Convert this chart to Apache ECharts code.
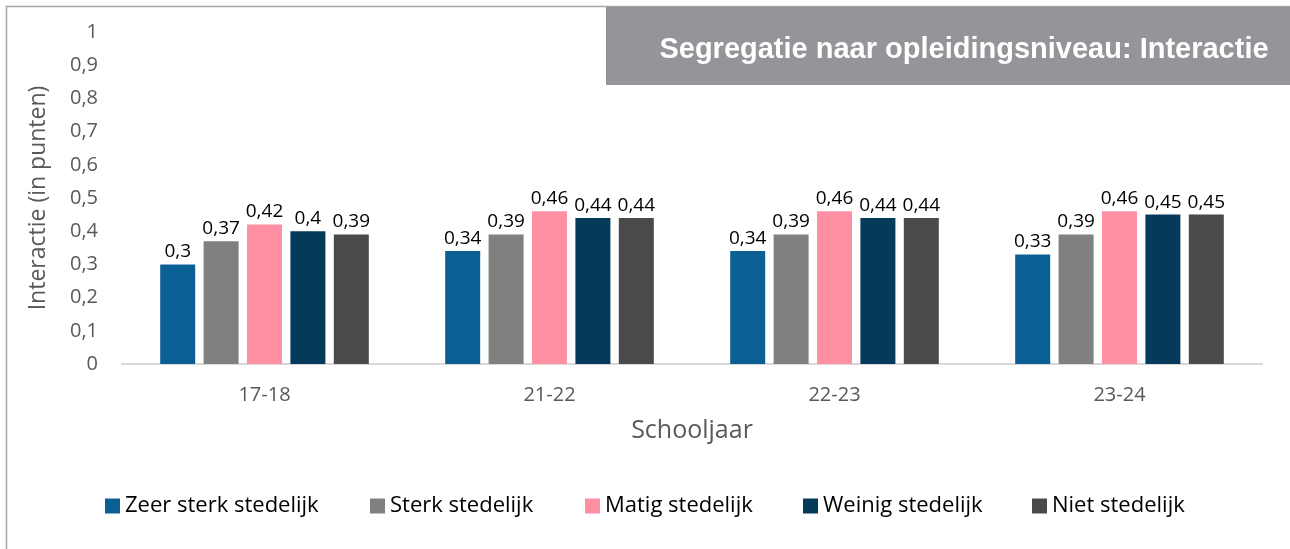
<!DOCTYPE html>
<html>
<head>
<meta charset="utf-8">
<script src="https://cdn.jsdelivr.net/npm/echarts@6/dist/echarts.min.js"></script>
<style>
  html, body { margin:0; padding:0; background:#fff; }
  #chart { width:1290px; height:549px; }
</style>
</head>
<body>
<div id="chart"></div>
<script>
	// data
	var categories = ['17-18', '21-22', '22-23', '23-24'];
	var seriesNames = ['Zeer sterk stedelijk', 'Sterk stedelijk', 'Matig stedelijk', 'Weinig stedelijk', 'Niet stedelijk'];
	var zeerSterk = [0.30, 0.34, 0.34, 0.33];
	var sterk     = [0.37, 0.39, 0.39, 0.39];
	var matig     = [0.42, 0.46, 0.46, 0.46];
	var weinig    = [0.40, 0.44, 0.44, 0.45];
	var niet      = [0.39, 0.44, 0.44, 0.45];
	var colors = ['#0a5f94', '#808080', '#ff8fa3', '#053a5a', '#4a4a4a'];
	var legendLeft = [105, 370, 585, 803, 1032];

	var txtFont = 'Open Sans';

	function komma(v) { return String(v).replace('.', ','); }

	var myChart = echarts.init(document.getElementById('chart'));

	var values = [zeerSterk, sterk, matig, weinig, niet];
	var series = [];
	var legends = [];
	for (var i = 0; i < seriesNames.length; i++) {
		series.push({
			name: seriesNames[i],
			type: 'bar',
			barWidth: 35,
			barGap: '24%',
			itemStyle: { color: colors[i] },
			label: {
				show: true,
				position: 'top',
				distance: 3,
				color: '#000',
				fontSize: 19,
				fontFamily: txtFont,
				formatter: function (p) { return komma(p.value); }
			},
			data: values[i]
		});
		legends.push({
			left: legendLeft[i],
			top: 495,
			padding: 0,
			itemWidth: 15,
			itemHeight: 15,
			icon: 'rect',
			textStyle: { color: '#000', fontSize: 22, fontFamily: txtFont },
			data: [seriesNames[i]]
		});
	}

	var option = {
		animation: false,
		backgroundColor: '#fff',
		graphic: [
			{
				type: 'rect',
				shape: { x: 6.5, y: 6.5, width: 1400, height: 700 },
				style: { fill: 'none', stroke: '#a6a6a6', lineWidth: 1.5 },
				z: -10
			},
			{
				type: 'rect',
				shape: { x: 606, y: 7, width: 684, height: 78 },
				style: { fill: '#939598' },
				z: -5
			},
			{
				type: 'text',
				x: 964,
				y: 50,
				style: {
					text: 'Segregatie naar opleidingsniveau: Interactie',
					fill: '#fff',
					font: 'bold 29px "Liberation Sans"',
					textAlign: 'center',
					textVerticalAlign: 'middle'
				}
			}
		],
		legend: legends,
		grid: { left: 122, right: 28, top: 32, bottom: 185 },
		xAxis: {
			type: 'category',
			data: categories,
			axisLine: { lineStyle: { color: '#d9d9d9', width: 2 } },
			axisTick: { show: false },
			axisLabel: { color: '#595959', fontSize: 20, fontFamily: txtFont, margin: 21 },
			name: 'Schooljaar',
			nameLocation: 'middle',
			nameGap: 54,
			nameTextStyle: { color: '#595959', fontSize: 25, fontFamily: txtFont }
		},
		yAxis: {
			type: 'value',
			min: 0,
			max: 1,
			interval: 0.1,
			axisLine: { show: false },
			axisTick: { show: false },
			splitLine: { show: false },
			axisLabel: {
				color: '#595959', fontSize: 20, fontFamily: txtFont, margin: 24,
				formatter: function (v) { return komma(Math.round(v * 10) / 10); }
			},
			name: 'Interactie (in punten)',
			nameLocation: 'middle',
			nameRotate: 90,
			nameGap: 72,
			nameTextStyle: { color: '#595959', fontSize: 23, fontFamily: txtFont }
		},
		series: series
	};
	myChart.setOption(option);
</script>
</body>
</html>
